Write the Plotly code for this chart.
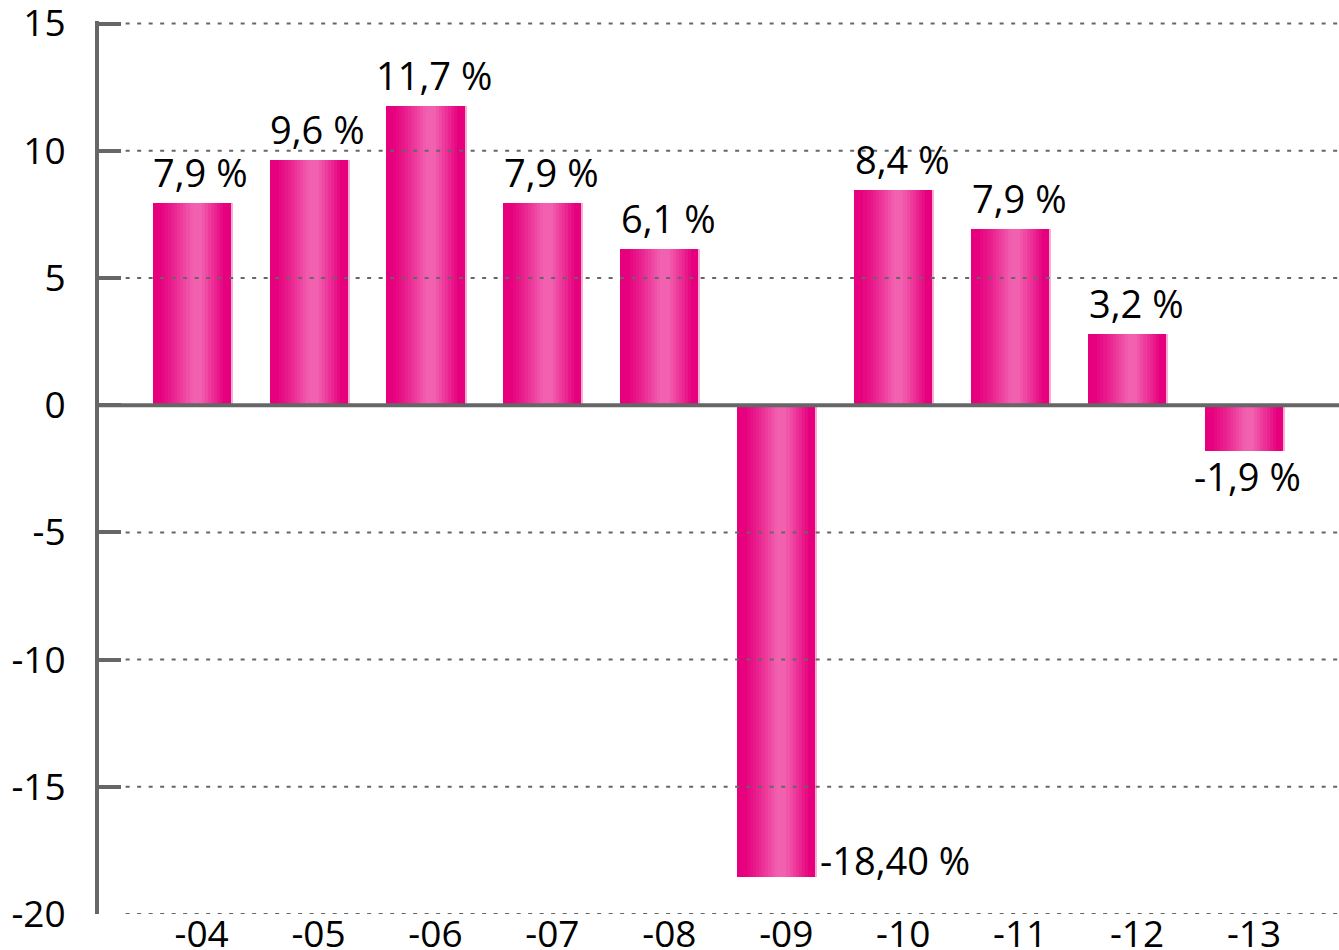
import plotly.graph_objects as go

# ---- data ----
years = ["-04", "-05", "-06", "-07", "-08", "-09", "-10", "-11", "-12", "-13"]
values = [7.96, 9.65, 11.75, 7.96, 6.15, -18.53, 8.47, 6.92, 2.81, -1.79]
labels = ["7,9 %", "9,6 %", "11,7 %", "7,9 %", "6,1 %", "-18,40 %", "8,4 %", "7,9 %", "3,2 %", "-1,9 %"]
y_ticks = [-20, -15, -10, -5, 0, 5, 10, 15]
y_tick_text = ["-20", "-15", "-10", "-5", "0", "5", "10", "15"]

FONT = "Open Sans"
FS = 37
FS_LAB = 38
GRAY = "#666666"
DARK = (230, 0, 126)
LIGHT = (242, 96, 176)
EDGE = (248, 175, 214)
BAR_W = 0.684
N = 26

pos = list(range(len(years)))


def weight(t):
    if t < 0.08:
        return 0.0
    if t < 0.5:
        return ((t - 0.08) / 0.42) ** 1.2
    if t < 0.6:
        return 1.0
    if t < 0.9:
        return 1.0 - (t - 0.6) / 0.3
    return 0.0


def mix(a, b, w):
    return "rgb({},{},{})".format(*[round(a[i] + (b[i] - a[i]) * w) for i in range(3)])


fig = go.Figure()
for k in range(N):
    t0 = k / N
    fig.add_trace(go.Bar(
        x=pos, y=values,
        width=BAR_W * (1 - t0),
        offset=-BAR_W / 2 + BAR_W * t0,
        marker=dict(color=mix(DARK, LIGHT, weight(t0 + 0.5 / N)), line=dict(width=0)),
        hoverinfo="skip", showlegend=False,
    ))
edge_w = 0.012
fig.add_trace(go.Bar(
    x=pos, y=values, width=edge_w, offset=BAR_W / 2 - edge_w,
    marker=dict(color=mix(EDGE, EDGE, 0), line=dict(width=0)),
    hoverinfo="skip", showlegend=False,
))

lab_font = dict(family=FONT, size=FS_LAB, color="black")
vmin = min(values)
for p, v, lab in zip(pos, values, labels):
    if v == vmin:
        fig.add_annotation(x=p, y=v, xref="x", yref="y", text=lab, showarrow=False,
                           xanchor="left", yanchor="bottom", xshift=41, yshift=-11, font=lab_font)
    elif v < 0:
        fig.add_annotation(x=p, y=v, xref="x", yref="y", text=lab, showarrow=False,
                           xanchor="center", yanchor="top", xshift=3, yshift=3, font=lab_font)
    else:
        fig.add_annotation(x=p, y=v, xref="x", yref="y", text=lab, showarrow=False,
                           xanchor="center", yanchor="bottom", xshift=8, yshift=3, font=lab_font)

for yv in y_ticks:
    if yv == 0:
        fig.add_shape(type="line", xref="paper", yref="y", x0=0, x1=1, y0=yv, y1=yv,
                      line=dict(color=GRAY, width=4), layer="above")
    else:
        fig.add_shape(type="line", xref="paper", yref="y", x0=0.0215, x1=1, y0=yv, y1=yv,
                      line=dict(color=GRAY, width=2, dash="4px,7.5px"), layer="above")

fig.update_layout(
    width=1339, height=950,
    margin=dict(l=99, r=0, t=21, b=36, autoexpand=False),
    paper_bgcolor="white", plot_bgcolor="white",
    barmode="overlay", bargap=0,
    font=dict(family=FONT, size=FS, color="black"),
    showlegend=False,
    xaxis=dict(range=[-0.8005, 9.804], tickvals=pos, ticktext=years, showgrid=False,
               zeroline=False, showline=False, ticks="", tickfont=dict(size=FS, color="black"),
               ticklabelshift=9, ticklabeloverflow="allow", anchor="free", position=0.006,
               automargin=False, fixedrange=True),
    yaxis=dict(range=[-20, 15.1], tickvals=y_ticks, ticktext=y_tick_text, showgrid=False,
               zeroline=False, showline=True, linewidth=4, linecolor=GRAY,
               ticks="inside", ticklen=22, tickwidth=4, tickcolor=GRAY, ticklabelstandoff=22,
               ticklabeloverflow="allow",
               tickfont=dict(size=FS, color="black"), automargin=False, fixedrange=True),
)

fig.write_html("out.html", config={"displayModeBar": False},
               post_script="document.body.style.margin='0';document.body.style.overflow='hidden';")
